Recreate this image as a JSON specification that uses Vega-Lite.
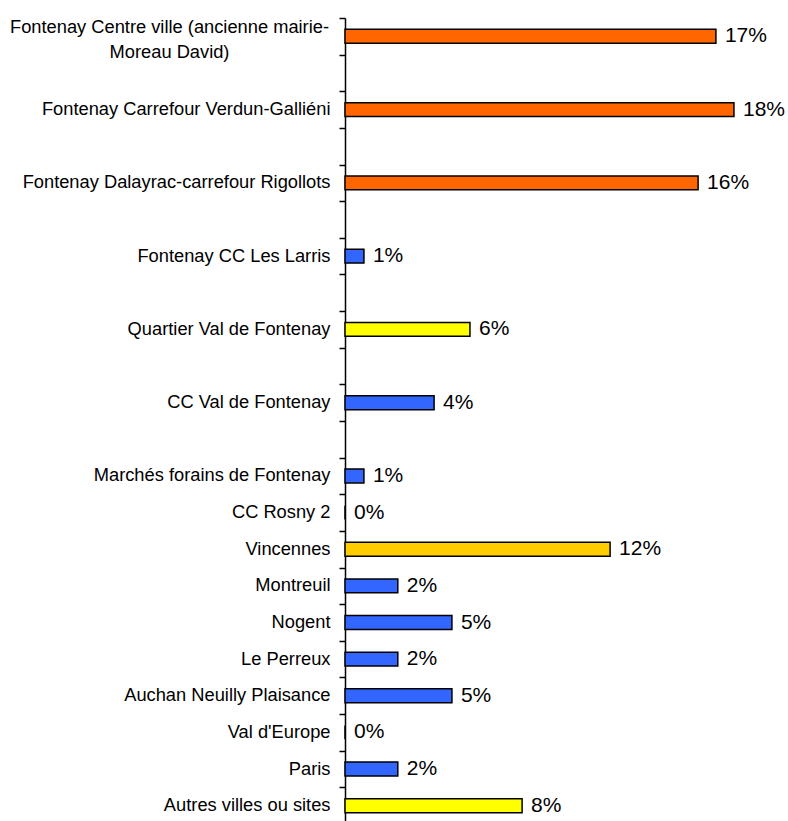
{
  "$schema": "https://vega.github.io/schema/vega-lite/v6.json",
  "autosize": "none",
  "width": 440,
  "height": 806,
  "padding": {"left": 345, "top": 18, "right": 3, "bottom": 0},
  "background": "white",
  "config": {"view": {"stroke": null}, "font": "Liberation Sans"},
  "data": {
    "values": [
      {"site": "Fontenay Centre ville (ancienne mairie-Moreau David)", "part": 0.1686, "type": "Fontenay centre"},
      {"site": "Fontenay Carrefour Verdun-Galliéni", "part": 0.1768, "type": "Fontenay centre"},
      {"site": "Fontenay Dalayrac-carrefour Rigollots", "part": 0.1605, "type": "Fontenay centre"},
      {"site": "Fontenay CC Les Larris", "part": 0.0086, "type": "Centre commercial"},
      {"site": "Quartier Val de Fontenay", "part": 0.0568, "type": "Quartier"},
      {"site": "CC Val de Fontenay", "part": 0.0405, "type": "Centre commercial"},
      {"site": "Marchés forains de Fontenay", "part": 0.0086, "type": "Centre commercial"},
      {"site": "CC Rosny 2", "part": 0, "type": "Centre commercial"},
      {"site": "Vincennes", "part": 0.1205, "type": "Vincennes"},
      {"site": "Montreuil", "part": 0.024, "type": "Centre commercial"},
      {"site": "Nogent", "part": 0.0486, "type": "Centre commercial"},
      {"site": "Le Perreux", "part": 0.024, "type": "Centre commercial"},
      {"site": "Auchan Neuilly Plaisance", "part": 0.0486, "type": "Centre commercial"},
      {"site": "Val d'Europe", "part": 0, "type": "Centre commercial"},
      {"site": "Paris", "part": 0.024, "type": "Centre commercial"},
      {"site": "Autres villes ou sites", "part": 0.0805, "type": "Quartier"}
    ]
  },
  "encoding": {
    "y": {
      "field": "site",
      "type": "nominal",
      "scale": {
        "domain": [
          "Fontenay Centre ville (ancienne mairie-Moreau David)", "gap1",
          "Fontenay Carrefour Verdun-Galliéni", "gap2",
          "Fontenay Dalayrac-carrefour Rigollots", "gap3",
          "Fontenay CC Les Larris", "gap4",
          "Quartier Val de Fontenay", "gap5",
          "CC Val de Fontenay", "gap6",
          "Marchés forains de Fontenay", "CC Rosny 2", "Vincennes", "Montreuil", "Nogent",
          "Le Perreux", "Auchan Neuilly Plaisance", "Val d'Europe", "Paris", "Autres villes ou sites"
        ],
        "paddingInner": 0,
        "paddingOuter": 0
      },
      "axis": {
        "title": null,
        "tickBand": "extent",
        "domainColor": "black",
        "domainWidth": 1.5,
        "tickColor": "black",
        "tickWidth": 1.5,
        "tickSize": 6,
        "labelFontSize": 18.3,
        "labelColor": "black",
        "labelLimit": 400,
        "labelLineHeight": 25,
        "labelBaseline": "middle",
        "labelAlign": {"condition": {"test": "datum.value == 'Fontenay Centre ville (ancienne mairie-Moreau David)'", "value": "center"}, "value": "right"},
        "labelPadding": {"condition": {"test": "datum.value == 'Fontenay Centre ville (ancienne mairie-Moreau David)'", "value": 170}, "value": 9},
        "labelOffset": {"condition": {"test": "datum.value == 'Fontenay Centre ville (ancienne mairie-Moreau David)'", "value": -9}, "value": 0},
        "labelExpr": "substring(datum.label, 0, 3) == 'gap' ? '' : (datum.label == 'Fontenay Centre ville (ancienne mairie-Moreau David)' ? ['Fontenay Centre ville (ancienne mairie-', 'Moreau David)'] : datum.label)"
      }
    },
    "x": {
      "field": "part",
      "type": "quantitative",
      "scale": {"domain": [0, 0.2], "nice": false},
      "axis": null
    }
  },
  "layer": [
    {
      "mark": {"type": "bar", "stroke": "black", "strokeWidth": 1.5, "height": {"band": 0.38}},
      "encoding": {
        "color": {
          "field": "type",
          "type": "nominal",
          "scale": {
            "domain": ["Fontenay centre", "Centre commercial", "Quartier", "Vincennes"],
            "range": ["#FF6600", "#3366FF", "#FFFF00", "#FFCC00"]
          },
          "legend": null
        }
      }
    },
    {
      "mark": {"type": "text", "align": "left", "baseline": "middle", "dx": 9, "fontSize": 21, "color": "black"},
      "encoding": {
        "text": {"field": "part", "type": "quantitative", "format": ".0%"}
      }
    }
  ]
}
